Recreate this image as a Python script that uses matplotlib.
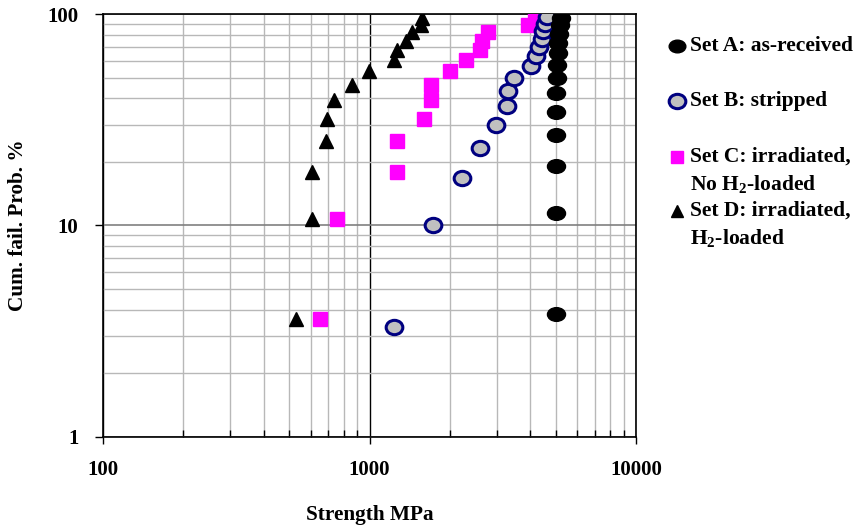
import numpy as np
import matplotlib
matplotlib.use("Agg")
import matplotlib.pyplot as plt
from matplotlib.path import Path
from matplotlib.lines import Line2D

plt.rcParams["font.family"] = ["Liberation Serif", "DejaVu Serif"]
plt.rcParams["font.weight"] = "bold"
plt.rcParams["mathtext.fontset"] = "custom"
plt.rcParams["mathtext.rm"] = "Liberation Serif:bold"
plt.rcParams["mathtext.it"] = "Liberation Serif:bold"
plt.rcParams["mathtext.bf"] = "Liberation Serif:bold"

# ── Data ──────────────────────────────────────────────────────────────────────
a_strength = [4992, 4992, 4992, 4992, 4992, 4992, 5035, 5035, 5078, 5105, 5149, 5180, 5212]
a_prob     = [3.8, 11.5, 19.2, 26.9, 34.6, 42.3, 50.0, 57.7, 65.4, 73.1, 80.8, 88.5, 96.2]

b_strength = [1237, 1724, 2227, 2594, 2972, 3277, 3314, 3481, 4032, 4211, 4331, 4422, 4484, 4550, 4618]
b_prob     = [3.3, 10.0, 16.7, 23.3, 30.0, 36.7, 43.3, 50.0, 56.7, 63.3, 70.0, 76.7, 83.3, 90.0, 96.7]

c_strength = [651, 752, 1263, 1263, 1599, 1703, 1703, 2002, 2294, 2594, 2633, 2788, 3938, 4174]
c_prob     = [3.6, 10.7, 17.9, 25.0, 32.1, 39.3, 46.4, 53.6, 60.7, 67.9, 75.0, 82.1, 89.3, 96.4]

d_strength = [527, 606, 606, 684, 691, 735, 856, 991, 1230, 1266, 1365, 1438, 1558, 1576]
d_prob     = [3.6, 10.7, 17.9, 25.0, 32.1, 39.3, 46.4, 53.6, 60.7, 67.9, 75.0, 82.1, 89.3, 96.4]

x_ticks = [100, 1000, 10000]
y_ticks = [1, 10, 100]

# ── Markers: slightly squashed circles like the original ─────────────────────
def ellipse(ratio):
    circ = Path.unit_circle()
    return Path(circ.vertices * np.array([1.0, ratio]), circ.codes)

ELL_A = ellipse(0.76)
ELL_B = ellipse(0.86)

# ── Figure ────────────────────────────────────────────────────────────────────
fig = plt.figure(figsize=(8.57, 5.29), dpi=100)
ax = fig.add_axes([0.1205, 0.1745, 0.6216, 0.7985])
ax.set_xscale("log")
ax.set_yscale("log")
ax.set_xlim(100, 10000)
ax.set_ylim(1, 100)

# grid
ax.grid(which="minor", color="#b8b8b8", lw=1.0)
ax.grid(which="major", axis="y", color="#808080", lw=1.2)
ax.grid(which="major", axis="x", color="black", lw=1.0)
ax.set_axisbelow(True)

ax.plot(d_strength, d_prob, ls="none", marker="^", ms=9.5, mfc="black", mec="black", zorder=3)
ax.plot(c_strength, c_prob, ls="none", marker="s", ms=10, mfc="#ff00ff", mec="#ff00ff", zorder=4)
ax.plot(b_strength, b_prob, ls="none", marker=ELL_B, ms=12, mfc="#c0c0c0", mec="#000080", mew=2.2, zorder=5)
ax.plot(a_strength, a_prob, ls="none", marker=ELL_A, ms=13, mfc="black", mec="black", zorder=6)

ax.set_xticks(x_ticks, [str(v) for v in x_ticks])
ax.set_yticks(y_ticks, [str(v) for v in y_ticks])
ax.tick_params(axis="x", which="major", direction="out", length=5, width=1, pad=12, labelsize=15)
ax.tick_params(axis="x", which="minor", direction="in", length=5, width=1, labelbottom=False)
ax.tick_params(axis="y", which="major", direction="out", length=6, width=1, pad=12, labelsize=15)
ax.tick_params(axis="y", which="minor", length=0, labelleft=False)
for sp in ax.spines.values():
    sp.set_linewidth(1.2)

ax.set_xlabel("Strength MPa", fontsize=15.3, fontweight="bold", labelpad=18)
ax.set_ylabel("Cum. fail. Prob. %", fontsize=15.3, fontweight="bold", labelpad=14)

# ── Legend (placed by hand, to the right of the plot) ────────────────────────
def fx(px):
    return px / 857.0

def fy(py):
    return 1 - py / 529.0

legend_rows = [
    (46,  dict(marker=ELL_A, ms=12, mfc="black", mec="black"), ["Set A: as-received"]),
    (101, dict(marker=ELL_B, ms=12, mfc="#c0c0c0", mec="#000080", mew=2.2), ["Set B: stripped"]),
    (157, dict(marker="s", ms=9, mfc="#ff00ff", mec="#ff00ff"),
          ["Set C: irradiated,", r"No $\mathrm{H_2}$-loaded"]),
    (211, dict(marker="^", ms=9, mfc="black", mec="black"),
          ["Set D: irradiated,", r"$\mathrm{H_2}$-loaded"]),
]
for y0, mstyle, lines in legend_rows:
    fig.add_artist(Line2D([fx(677)], [fy(y0)], ls="none", transform=fig.transFigure, **mstyle))
    for k, txt in enumerate(lines):
        fig.text(fx(690), fy(y0 + 27 * k), txt, fontsize=15.5, fontweight="bold",
                 ha="left", va="center")

fig.savefig("out.png", dpi=100)
